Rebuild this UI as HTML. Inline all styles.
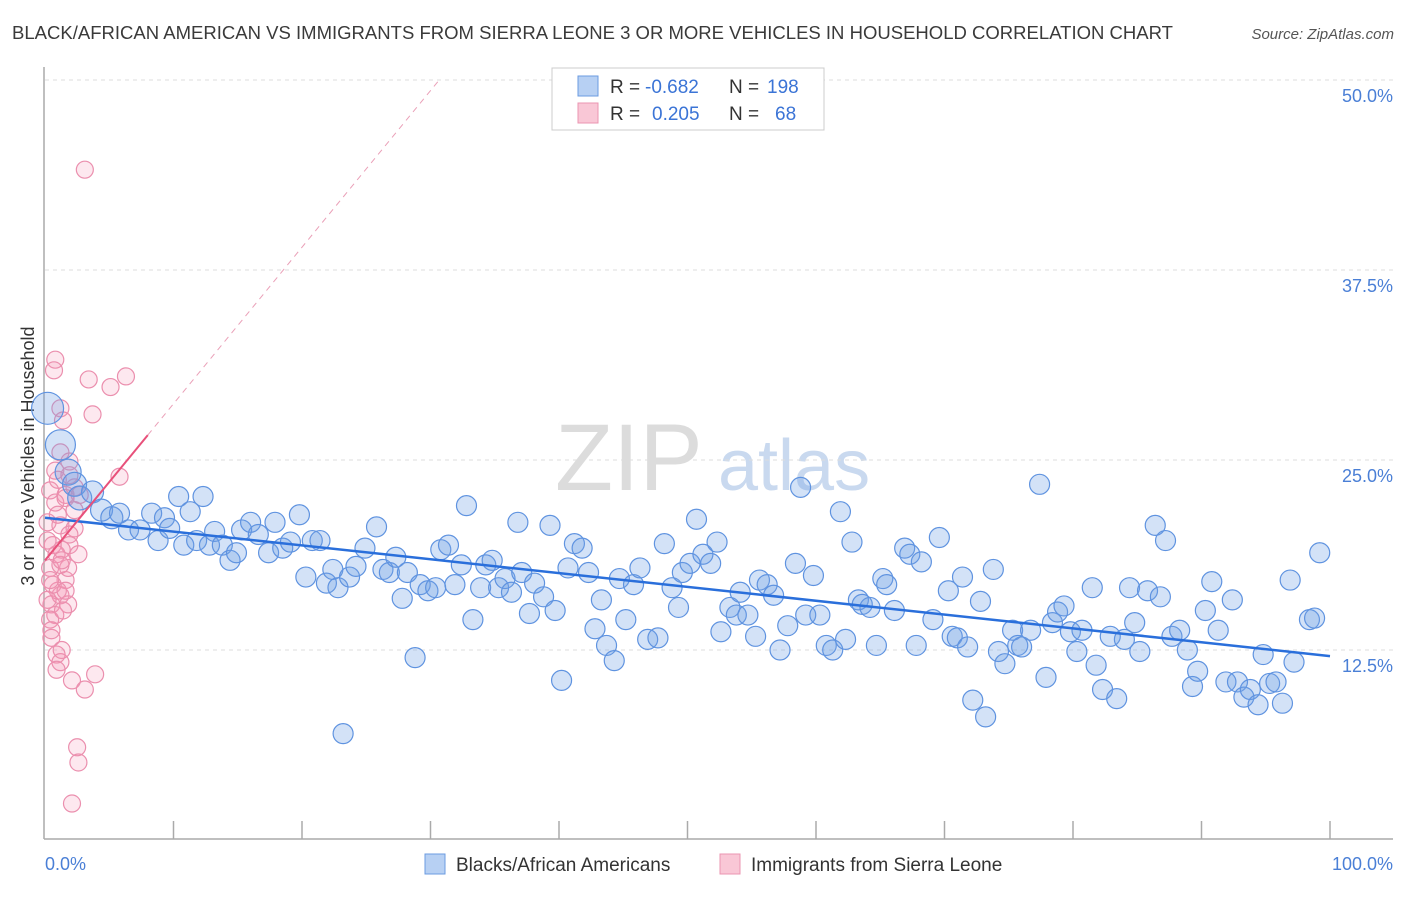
<!DOCTYPE html>
<html><head><meta charset="utf-8"><style>
body{margin:0;background:#fff;font-family:"Liberation Sans",sans-serif;}
svg text{font-family:"Liberation Sans",sans-serif;}
</style></head><body>
<svg id="chart" width="1406" height="892" xmlns="http://www.w3.org/2000/svg">
<text x="12" y="39" font-size="18.5" fill="#3a3a3a" textLength="1161" lengthAdjust="spacingAndGlyphs">BLACK/AFRICAN AMERICAN VS IMMIGRANTS FROM SIERRA LEONE 3 OR MORE VEHICLES IN HOUSEHOLD CORRELATION CHART</text>
<text x="1394" y="39" font-size="15" fill="#555" font-style="italic" text-anchor="end">Source: ZipAtlas.com</text>
<g>
<text x="555" y="490" font-size="95" fill="#dcdcdc" font-family="Liberation Serif">ZIP</text>
<text x="718" y="490" font-size="72" fill="#c9d9ef">atlas</text>
</g>
<g id="grid"></g>
<g id="axes"></g>
<g id="pts"></g>
<g id="fits"></g>
<g>
<rect x="552" y="68" width="272" height="62" fill="#fff" stroke="#ccc"/>
<rect x="578" y="76" width="20" height="20" fill="#b7d0f3" stroke="#6b9be0"/>
<rect x="578" y="103" width="20" height="20" fill="#f9c7d6" stroke="#eb95b1"/>
<text x="610" y="93" font-size="19" fill="#333">R =</text>
<text x="645" y="93" font-size="19" fill="#3b74d6">-0.682</text>
<text x="729" y="93" font-size="19" fill="#333">N =</text>
<text x="767" y="93" font-size="19" fill="#3b74d6">198</text>
<text x="610" y="120" font-size="19" fill="#333">R =</text>
<text x="652" y="120" font-size="19" fill="#3b74d6">0.205</text>
<text x="729" y="120" font-size="19" fill="#333">N =</text>
<text x="775" y="120" font-size="19" fill="#3b74d6">68</text>
</g>
<g>
<rect x="425" y="854" width="20" height="20" fill="#b7d0f3" stroke="#6b9be0"/>
<text x="456" y="871" font-size="19" fill="#333">Blacks/African Americans</text>
<rect x="720" y="854" width="20" height="20" fill="#f9c7d6" stroke="#eb95b1"/>
<text x="751" y="871" font-size="19" fill="#333">Immigrants from Sierra Leone</text>
</g>
</svg>
<script>
const yTicks=[12.5,25,37.5,50];
const yTickLabels=["12.5%","25.0%","37.5%","50.0%"];
const xTickLabels=["0.0%","100.0%"];
const blueX=[0.2,1.2,1.8,2.3,2.7,3.7,4.4,5.2,5.8,6.5,7.4,8.3,8.8,9.3,9.7,10.4,11.3,10.8,11.8,12.3,12.8,13.2,13.8,14.4,14.9,15.3,16.0,16.6,17.4,17.9,18.5,19.1,19.8,20.3,20.8,21.4,21.9,22.4,22.8,23.2,23.7,24.2,24.9,25.8,26.3,26.8,27.3,27.8,28.2,28.8,29.2,29.8,30.4,30.8,31.4,31.9,32.4,32.8,33.3,33.9,34.3,34.8,35.3,35.8,36.3,36.8,37.1,37.7,38.1,38.8,39.3,39.7,40.2,40.7,41.2,41.8,42.3,42.8,43.3,43.7,44.3,44.7,45.2,45.8,46.3,46.9,47.7,48.2,48.8,49.3,49.6,50.2,50.7,51.2,51.8,52.3,52.6,53.3,53.8,54.1,54.7,55.3,55.6,56.2,56.7,57.2,57.8,58.4,58.8,59.2,59.8,60.3,60.8,61.3,61.9,62.3,62.8,63.3,63.6,64.2,64.7,65.2,65.5,66.1,66.9,67.3,67.8,68.2,69.1,69.6,70.3,70.6,71.0,71.4,71.8,72.2,72.8,73.2,73.8,74.2,74.7,75.3,75.7,76.0,76.7,77.4,77.9,78.4,78.8,79.3,79.8,80.3,80.7,81.5,81.8,82.3,82.9,83.4,84.0,84.4,84.8,85.2,85.8,86.4,86.8,87.2,87.7,88.3,88.9,89.3,89.7,90.3,90.8,91.3,91.9,92.4,92.8,93.3,93.8,94.4,94.8,95.3,95.8,96.3,96.9,97.2,98.4,98.8,99.2];
const blueY=[28.4,26.0,24.2,23.4,22.5,22.9,21.7,21.2,21.5,20.4,20.4,21.5,19.7,21.2,20.5,22.6,21.6,19.4,19.7,22.6,19.4,20.3,19.4,18.4,18.9,20.4,20.9,20.1,18.9,20.9,19.2,19.6,21.4,17.3,19.7,19.7,16.9,17.8,16.6,7.0,17.3,18.0,19.2,20.6,17.8,17.6,18.6,15.9,17.6,12.0,16.8,16.4,16.6,19.1,19.4,16.8,18.1,22.0,14.5,16.6,18.1,18.4,16.6,17.2,16.3,20.9,17.6,14.9,16.9,16.0,20.7,15.1,10.5,17.9,19.5,19.2,17.6,13.9,15.8,12.8,11.8,17.2,14.5,16.8,17.9,13.2,13.3,19.5,16.6,15.3,17.6,18.2,21.1,18.8,18.2,19.6,13.7,15.3,14.8,16.3,14.8,13.4,17.1,16.8,16.1,12.5,14.1,18.2,23.2,14.8,17.4,14.8,12.8,12.5,21.6,13.2,19.6,15.8,15.5,15.3,12.8,17.2,16.8,15.1,19.2,18.8,12.8,18.3,14.5,19.9,16.4,13.4,13.3,17.3,12.7,9.2,15.7,8.1,17.8,12.4,11.6,13.8,12.8,12.7,13.8,23.4,10.7,14.3,15.0,15.4,13.7,12.4,13.8,16.6,11.5,9.9,13.4,9.3,13.2,16.6,14.3,12.4,16.4,20.7,16.0,19.7,13.4,13.8,12.5,10.1,11.1,15.1,17.0,13.8,10.4,15.8,10.4,9.4,9.9,8.9,12.2,10.3,10.4,9.0,17.1,11.7,14.5,14.6,18.9];
const blueSize=[16,15,13,12,12,11,11,11,10,10];
const pinkX=[3.1,0.8,0.7,3.4,5.1,6.3,3.7,1.2,1.4,1.2,1.9,5.8,0.4,1.6,0.8,2.3,2.7,0.2,1.2,2.3,0.6,1.9,0.9,1.3,0.4,1.6,2.6,1.8,0.5,1.2,1.8,0.8,0.4,1.4,0.5,0.9,1.2,1.3,0.9,2.1,3.9,3.1,2.5,2.6,2.1,1.0,0.6,1.2,0.4,1.6,0.2,1.0,0.8,1.9,1.6,2.3,0.2,0.5,1.3,1.9,1.0];
const pinkY=[44.1,31.6,30.9,30.3,29.8,30.5,28.0,28.4,27.6,25.5,24.9,23.9,23.0,22.7,22.2,23.2,22.7,20.9,20.7,20.5,19.4,19.4,18.8,19.1,17.9,17.1,18.8,17.9,15.5,16.1,15.5,14.8,14.5,15.1,13.3,12.2,11.7,12.5,11.2,10.5,10.9,9.9,6.1,5.1,2.4,16.4,16.8,18.1,17.1,16.4,19.7,23.7,24.3,24.0,22.5,21.7,15.8,13.8,18.4,20.1,21.4];
const blueFit=[21.2,12.1];      // y at x=0 and x=100
const pinkFit=[18.4,1.03];      // intercept, slope
const X0=45,X1=1330,Y0=840,YS=15.2;
const sx=v=>X0+(X1-X0)*v/100, sy=v=>Y0-v*YS;
const NS="http://www.w3.org/2000/svg";
function mk(t,a,p){const e=document.createElementNS(NS,t);for(const k in a)e.setAttribute(k,a[k]);p.appendChild(e);return e;}
const grid=document.getElementById('grid'),axes=document.getElementById('axes'),pts=document.getElementById('pts'),fits=document.getElementById('fits');
yTicks.forEach((v,i)=>{
 const l=mk('line',{x1:X0,x2:1393,y1:sy(v),y2:sy(v),stroke:'#ddd','stroke-dasharray':'4,4'},grid);
 
 
 const t=mk('text',{x:1393,y:sy(v)+22,'font-size':18,fill:'#4a7fd6','text-anchor':'end'},axes);
 t.textContent=yTickLabels[i];
 
 
});
const ya=mk('line',{x1:44,x2:44,y1:67,y2:839,stroke:'#aaa','stroke-width':1.5},axes);


const xa=mk('line',{x1:44,x2:1393,y1:839,y2:839,stroke:'#aaa','stroke-width':1.5},axes);


for(let i=1;i<=10;i++){const x=sx(i*10);const t=mk('line',{x1:x,x2:x,y1:821,y2:839,stroke:'#aaa','stroke-width':1.5},axes);
 
 }
[[0,'start',45],[100,'end',1393]].forEach((a,i)=>{const t=mk('text',{x:a[2],y:870,'font-size':18,fill:'#4a7fd6','text-anchor':a[1]},axes);t.textContent=xTickLabels[i];
 
 });
const yt=mk('text',{x:0,y:0,'font-size':18,fill:'#333','text-anchor':'middle',transform:'translate(34,456) rotate(-90)'},axes);
yt.textContent='3 or more Vehicles in Household';


pinkX.forEach((v,i)=>{const c=mk('circle',{cx:sx(v),cy:sy(pinkY[i]),r:8.5,fill:'rgba(244,150,180,0.22)',stroke:'#eb8fae','stroke-width':1.2},pts);
 
 });
blueX.forEach((v,i)=>{const c=mk('circle',{cx:sx(v),cy:sy(blueY[i]),r:blueSize[i]||10,fill:'rgba(110,160,230,0.3)',stroke:'#5f93e0','stroke-width':1.2},pts);
 
 });
const bl=mk('line',{x1:sx(0),y1:sy(blueFit[0]),x2:sx(100),y2:sy(blueFit[1]),stroke:'#2a6fdb','stroke-width':2.5},fits);


const pe=(50-pinkFit[0])/pinkFit[1];
const pd=mk('line',{x1:sx(8),y1:sy(pinkFit[0]+8*pinkFit[1]),x2:sx(pe),y2:sy(50),stroke:'#eaa0b8','stroke-width':1,'stroke-dasharray':'6,5'},fits);


const pl=mk('line',{x1:sx(0),y1:sy(pinkFit[0]),x2:sx(8),y2:sy(pinkFit[0]+8*pinkFit[1]),stroke:'#e8507a','stroke-width':2},fits);


</script>
</body></html>
